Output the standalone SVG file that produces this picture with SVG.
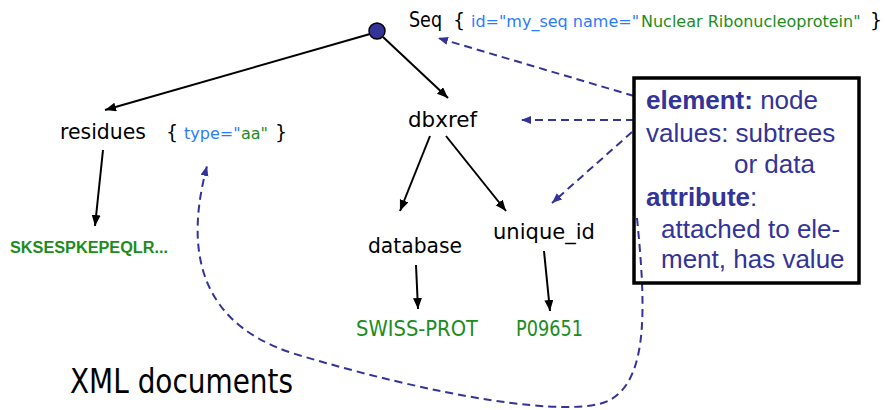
<svg xmlns="http://www.w3.org/2000/svg" width="886" height="410" viewBox="0 0 886 410">
  <style>
    .lbl { font-family: "DejaVu Sans", Verdana, sans-serif; font-size: 21.5px; fill: #000; }
    .attr { font-family: "DejaVu Sans", Verdana, sans-serif; font-size: 16px; }
    .key { fill: #2b7bff; }
    .val { fill: #1d8c1d; }
    .brace { fill: #000; font-size: 19px; }
    .data { font-family: "DejaVu Sans", Verdana, sans-serif; font-size: 20.5px; fill: #1d8c1d; }
    .seqdata { font-family: "Liberation Sans", Arial, sans-serif; font-size: 16px; font-weight: bold; fill: #1d8c1d; }
    .note { font-family: "Liberation Sans", Arial, sans-serif; font-size: 26px; fill: #333399; }
    .note .b { font-weight: bold; }
    .title { font-family: "DejaVu Sans", Verdana, sans-serif; font-size: 34px; fill: #000; }
    .edge { stroke: #000; stroke-width: 2; fill: none; marker-end: url(#arrow); }
    .hint { stroke: #333399; stroke-width: 2; stroke-dasharray: 8 5; fill: none; marker-end: url(#arrowBlue); }
  </style>
  <defs>
    <marker id="arrow" markerUnits="userSpaceOnUse" markerWidth="12" markerHeight="10" refX="11" refY="4.5" orient="auto">
      <path d="M0,0 L11,4.5 L0,9 z" fill="#000"/>
    </marker>
    <marker id="arrowBlue" markerUnits="userSpaceOnUse" markerWidth="11" markerHeight="9" refX="10" refY="4" orient="auto">
      <path d="M0,0 L10,4 L0,8 z" fill="#333399"/>
    </marker>
  </defs>

  <rect width="886" height="410" fill="#fff"/>

  <!-- tree edges and explanatory pointers -->
  <g id="connectors">
    <path class="edge" d="M370,34 L105,110"/>
    <path class="edge" d="M383,37 L448,98"/>
    <path class="edge" d="M103,150 L95,226"/>
    <path class="edge" d="M430,136 L400,211"/>
    <path class="edge" d="M446,136 L506,211"/>
    <path class="edge" d="M416,265 L418,309"/>
    <path class="edge" d="M544,251 L550,311"/>

    <path class="hint" d="M634,96 L438,38"/>
    <path class="hint" d="M634,120 L521,120"/>
    <path class="hint" d="M632,132 L552,203"/>
    <path class="hint" d="M637,218 C645,300 650,378 610,400 C572,420 430,395 292,353 C185,318 190,230 207,166"/>
  </g>

  <g id="seq">
    <circle cx="377" cy="31" r="8" fill="#333399" stroke="#000" stroke-width="1.5"/>
    <text class="lbl" x="409" y="27" font-size="20.5" textLength="33" lengthAdjust="spacingAndGlyphs">Seq</text>
    <text class="attr brace" x="453" y="27">{</text>
    <text class="attr key" x="471" y="27">id="my_seq name="</text>
    <text class="attr val" x="641" y="27" font-size="16.1">Nuclear Ribonucleoprotein"</text>
    <text class="attr brace" x="870" y="27">}</text>
  </g>

  <g id="residues">
    <text class="lbl" x="60" y="139" textLength="86" lengthAdjust="spacingAndGlyphs">residues</text>
    <text class="attr brace" x="166" y="139">{</text>
    <text class="attr key" x="184" y="139">type="</text>
    <text class="attr val" x="241" y="139">aa"</text>
    <text class="attr brace" x="275" y="139">}</text>
  </g>

  <g id="sequence-data">
    <text class="seqdata" x="10" y="253" textLength="158" lengthAdjust="spacingAndGlyphs">SKSESPKEPEQLR...</text>
  </g>

  <g id="dbxref">
    <text class="lbl" x="408" y="127" textLength="69" lengthAdjust="spacingAndGlyphs">dbxref</text>
  </g>

  <g id="database">
    <text class="lbl" x="368" y="253" textLength="94" lengthAdjust="spacingAndGlyphs">database</text>
  </g>

  <g id="unique-id">
    <text class="lbl" x="493" y="239" textLength="102" lengthAdjust="spacingAndGlyphs">unique_id</text>
  </g>

  <g id="swiss-prot">
    <text class="data" x="356" y="336" textLength="122" lengthAdjust="spacingAndGlyphs">SWISS-PROT</text>
  </g>

  <g id="p09651">
    <text class="data" x="516" y="336" textLength="67" lengthAdjust="spacingAndGlyphs">P09651</text>
  </g>

  <g id="legend">
    <rect x="634" y="78" width="225" height="205" fill="none" stroke="#000" stroke-width="3.5"/>
    <text class="note" x="646" y="109"><tspan class="b">element:</tspan> node</text>
    <text class="note" x="646" y="142">values: subtrees</text>
    <text class="note" x="734" y="173">or data</text>
    <text class="note" x="646" y="206"><tspan class="b">attribute</tspan>:</text>
    <text class="note" x="661" y="238">attached to ele-</text>
    <text class="note" x="661" y="268">ment, has value</text>
  </g>

  <g id="caption">
    <text class="title" x="70" y="393" textLength="223" lengthAdjust="spacingAndGlyphs">XML documents</text>
  </g>
</svg>
